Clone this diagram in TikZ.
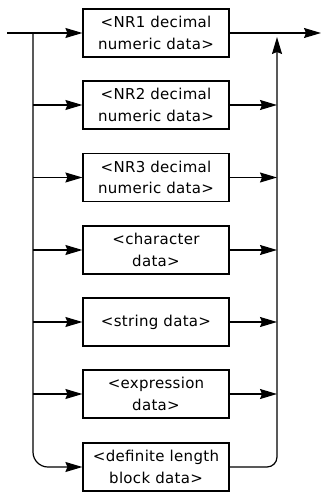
\documentclass[tikz,border=0pt]{standalone}
\usepackage{fontspec}
\setmainfont{DejaVu Sans}[LetterSpace=2]
\usetikzlibrary{arrows.meta}
\begin{document}
\begin{tikzpicture}[x=1pt,y=-1pt,
  box/.style={draw, line width=1.2pt, minimum width=146pt, minimum height=48pt,
    inner sep=0pt, align=center, font=\fontsize{15}{21.5}\selectfont},
  conn/.style={line width=1.2pt},
  arr/.style={-{Stealth[length=17pt,width=10pt,inset=2pt]}}]
\useasboundingbox (0,0) rectangle (321,494);
\node[box] (b1) at (156,33)  {<NR1 decimal\\numeric data>};
\node[box] (b2) at (156,105) {<NR2 decimal\\numeric data>};
\node[box] (b3) at (156,177.5) {<NR3 decimal\\numeric data>};
\node[box] (b4) at (156,250) {<character\\data>};
\node[box] (b5) at (156,322) {<string data>};
\node[box] (b6) at (156,394) {<expression\\data>};
\node[box] (b7) at (156,467) {<definite length\\block data>};
\coordinate (in) at (7,33);
\coordinate (lt) at (33,33);
\coordinate (rt) at (277,33);
\coordinate (out) at (321,33);
% entry and exit
\draw[conn,arr] (in) -- (b1.west);
\draw[conn,arr] (b1.east) -- (out);
% left branches
\foreach \b in {b2,b3,b4,b5,b6}
  \draw[conn,arr] (lt |- \b.west) -- (\b.west);
\draw[conn,arr,rounded corners=15pt] (lt) |- (b7.west);
% right branches
\foreach \b in {b2,b3,b4,b5,b6}
  \draw[conn,arr] (\b.east) -- (rt |- \b.east);
\draw[conn,arr,rounded corners=10pt,shorten >=4pt] (b7.east) -| (rt);
\end{tikzpicture}
\end{document}
